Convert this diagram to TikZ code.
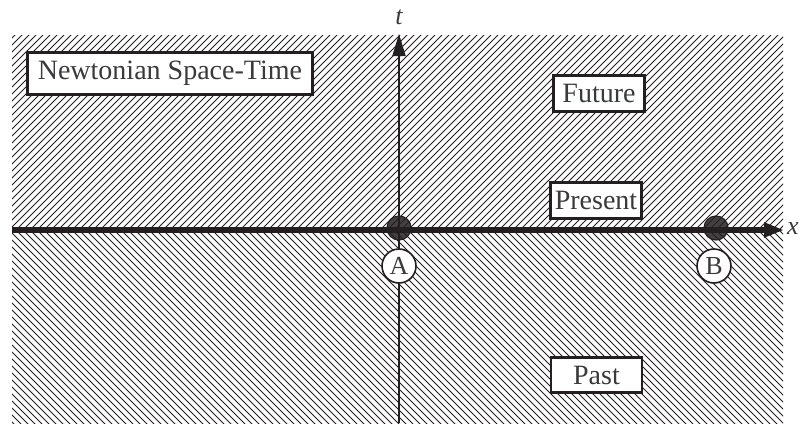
\documentclass[tikz,border=0pt]{standalone}
\usepackage{fontspec}
\setmainfont{Liberation Serif}
\usetikzlibrary{arrows.meta}
\definecolor{ink}{HTML}{231F20}
\definecolor{txt}{HTML}{3A3A3C}
\begin{document}
\begin{tikzpicture}[x=1pt,y=-1pt,
  lbl/.style={draw=ink, line width=2.7pt, fill=white, text=txt,
    font=\fontsize{28}{30}\selectfont, inner xsep=10.5pt, inner ysep=8.5pt},
  tbox/.style={lbl, inner xsep=3.5pt, minimum width=91pt},
  hatch/.style={draw=ink, line width=0.8pt},
  dot/.style={circle, draw=ink, line width=1.2pt, fill=ink, fill opacity=0.85,
    minimum size=24pt, inner sep=0pt},
  ptlabel/.style={circle, draw=ink, line width=1.6pt, fill=white, text=txt,
    font=\fontsize{26}{26}\selectfont, minimum size=34pt, inner sep=0pt},
  axlabel/.style={text=txt, font=\itshape\fontsize{26}{26}\selectfont, inner sep=0pt}]
\useasboundingbox (0,0) rectangle (800,423);
% hatching
\begin{scope}
  \clip (12,35) rectangle (783,230);
  \foreach \a in {-203,-196,...,790} \draw[hatch] (\a,232) -- ++(205,-205);
\end{scope}
\begin{scope}
  \clip (12,230) rectangle (783,423);
  \foreach \a in {-203,-196,...,790} \draw[hatch] (\a,228) -- ++(205,205);
\end{scope}
% axes
\coordinate (xs) at (12,230);
\coordinate (xe) at (784,230);
\coordinate (tb) at (399,423);
\coordinate (te) at (399,34);
\draw[ink, line width=2pt, -{Triangle[length=22pt,width=13pt]}] (tb) -- (te);
\draw[ink, line width=6.5pt, -{Triangle[length=20pt,width=14pt]}] (xs) -- (xe);
\node[axlabel] (tl) at (399,17) {t};
\node[axlabel, anchor=west] (xl) at (787,229) {x};
% events
\node[dot] (A) at (399,228) {};
\node[dot] (B) at (716,228) {};
\node[ptlabel] (Al) at (399,266) {A};
\node[ptlabel] (Bl) at (714,266) {B};
% labels
\node[lbl, anchor=west] (nst) at (26,73.5) {Newtonian Space-Time};
\node[tbox] (fut) at (599,93.5) {Future};
\node[tbox] (pre) at (596,200.5) {Present};
\node[tbox] (pas) at (596.5,375) {Past};
\end{tikzpicture}
\end{document}
